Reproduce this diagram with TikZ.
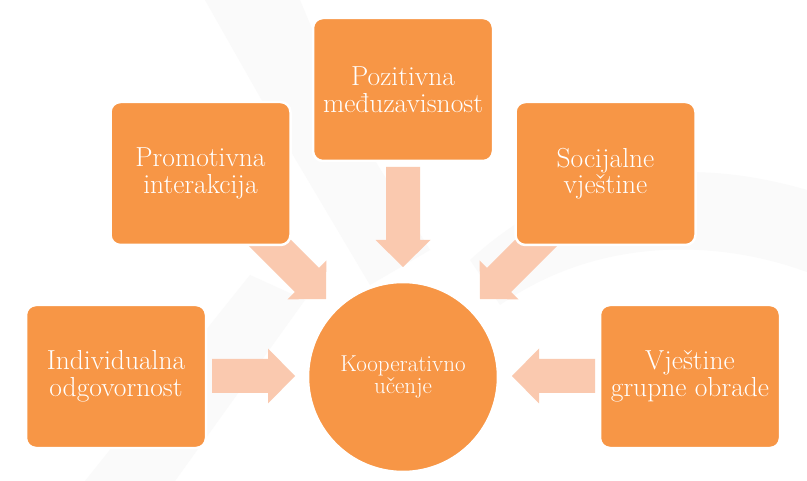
\documentclass[tikz,border=0pt]{standalone}
\definecolor{boxorange}{HTML}{F79646}
\definecolor{arrowpeach}{HTML}{FAC9AF}
\definecolor{wmark}{HTML}{FAFAFA}
\tikzset{
  box/.style={fill=boxorange, draw=white, line width=2.5pt, rounded corners=10pt,
    minimum width=180pt, minimum height=143pt, inner sep=0pt, text=white,
    align=center, font=\fontsize{27.5}{26.5}\selectfont},
  hub/.style={circle, fill=boxorange, draw=white, line width=2.5pt,
    minimum size=190pt, inner sep=0pt, text=white, align=center,
    font=\fontsize{23}{21.5}\selectfont},
  arrowfill/.style={fill=arrowpeach},
  wm/.style={fill=wmark}
}
% block arrow: tip coordinate name, angle, length
\newcommand\blockarr[3]{%
  \fill[arrowfill, shift={(#1)}, rotate=#2]
    (-#3,-17) -- (-27,-17) -- (-27,-27.5) -- (0,0) -- (-27,27.5) -- (-27,17) -- (-#3,17) -- cycle;}
\begin{document}
\begin{tikzpicture}[x=1pt,y=-1pt]
\useasboundingbox (0,0) rectangle (807,481);
\fill[white] (0,0) rectangle (807,481);
% faint watermark
\fill[wm] (205,0) -- (300,0) -- (350,120) -- (430,250) -- (370,285) -- (290,150) -- cycle;
\fill[wm] (470,260) .. controls (590,150) and (720,165) .. (807,190) -- (807,272)
  .. controls (720,240) and (600,235) .. (500,305) -- cycle;
\fill[wm] (85,481) -- (175,481) -- (305,300) -- (250,275) -- cycle;
% tips of the block arrows
\coordinate (tT) at (403,267);
\coordinate (tL) at (295,376);
\coordinate (tR) at (512,376);
\coordinate (tUL) at (326,299);
\coordinate (tUR) at (480,299);
\blockarr{tT}{-90}{100}
\blockarr{tL}{0}{83}
\blockarr{tR}{180}{83}
\blockarr{tUL}{-45}{115}
\blockarr{tUR}{-135}{115}
% boxes
\node[box] (poz) at (403,89.5) {Pozitivna\\međuzavisnost};
\node[box] (pro) at (200.5,173.5) {Promotivna\\interakcija};
\node[box] (soc) at (605.5,173.5) {Socijalne\\vještine};
\node[box] (ind) at (116,376.5) {Individualna\\odgovornost};
\node[box] (vje) at (690,376.5) {Vještine\\grupne obrade};
\node[hub] (koop) at (403,377) {Kooperativno\\učenje};
\end{tikzpicture}
\end{document}
